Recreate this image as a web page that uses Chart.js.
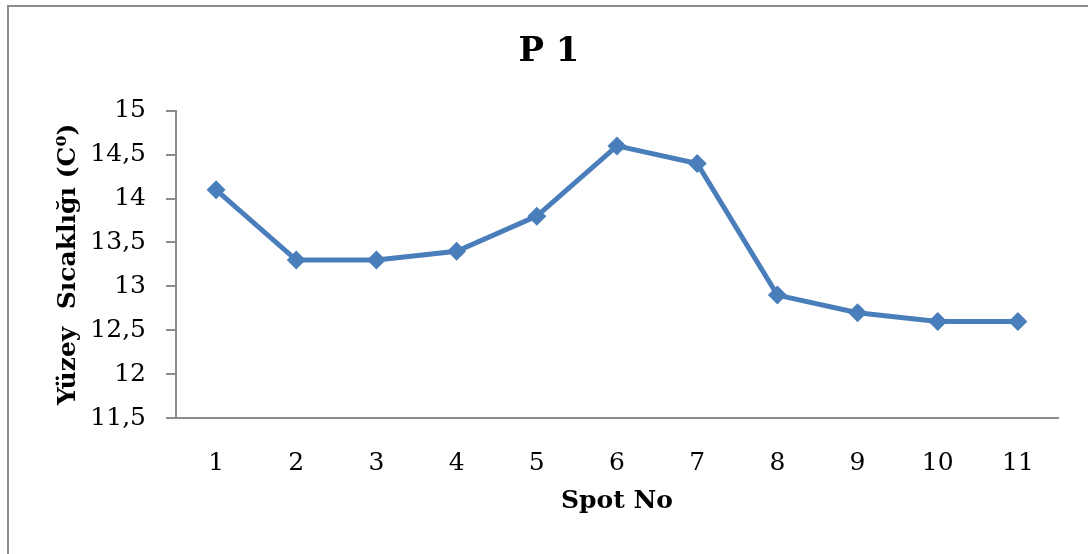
<!DOCTYPE html>
<html>
<head>
<meta charset="utf-8">
<script src="https://cdn.jsdelivr.net/npm/chart.js@4.4.1/dist/chart.umd.min.js"></script>
<style>
  html, body { margin: 0; padding: 0; background: #fff; }
  #wrap { width: 1088px; height: 554px; position: relative; }
</style>
</head>
<body>
<div id="wrap"><canvas id="c" width="1088" height="554"></canvas></div>
<script>
const categories = ['1', '2', '3', '4', '5', '6', '7', '8', '9', '10', '11'];
const temperatures = [14.1, 13.3, 13.3, 13.4, 13.8, 14.6, 14.4, 12.9, 12.7, 12.6, 12.6];
const yTicks = [11.5, 12, 12.5, 13, 13.5, 14, 14.5, 15];
const chartTitle = 'P 1';
const xTitle = 'Spot No';
const yTitle = 'Yüzey  Sıcaklığı (C⁰)';

const SERIF = "'DejaVu Serif', 'Liberation Serif', serif";
const GRAY = '#8c8c8c';
const BLUE = '#4a7ebb';

const frame = {
  id: 'frame',
  beforeDraw(chart) {
    const ctx = chart.ctx;
    ctx.save();
    ctx.fillStyle = '#fff';
    ctx.fillRect(0, 0, chart.width, chart.height);
    ctx.strokeStyle = GRAY;
    ctx.lineWidth = 2;
    ctx.beginPath();
    ctx.moveTo(8, chart.height);
    ctx.lineTo(8, 6);
    ctx.lineTo(chart.width, 6);
    ctx.stroke();
    ctx.restore();
  }
};

new Chart(document.getElementById('c'), {
  type: 'line',
  data: {
    labels: categories,
    datasets: [{
      data: temperatures,
      borderColor: BLUE,
      backgroundColor: BLUE,
      borderWidth: 5,
      pointStyle: 'rectRot',
      pointRadius: 9.5,
      pointHoverRadius: 9.5,
      pointBorderWidth: 0,
      tension: 0,
      fill: false
    }]
  },
  options: {
    responsive: false,
    animation: false,
    devicePixelRatio: 1,
    layout: { padding: { left: 40, right: 30, top: 0, bottom: 20 } },
    plugins: {
      legend: { display: false },
      tooltip: { enabled: false },
      title: {
        display: true,
        text: chartTitle,
        color: '#000',
        font: { family: SERIF, size: 34, weight: 'bold' },
        padding: { top: 32, bottom: 38 }
      }
    },
    scales: {
      x: {
        type: 'category',
        offset: true,
        grid: { display: false },
        border: { display: true, color: GRAY, width: 2 },
        ticks: {
          color: '#000',
          font: { family: SERIF, size: 25 },
          padding: 22,
          maxRotation: 0,
          autoSkip: false
        },
        title: {
          display: true,
          text: xTitle,
          color: '#000',
          font: { family: SERIF, size: 25, weight: 'bold' },
          padding: { top: 0, bottom: 18 }
        },
        afterFit(scale) { scale.height = 116; }
      },
      y: {
        min: 11.5,
        max: 15,
        afterBuildTicks(scale) { scale.ticks = yTicks.map(v => ({ value: v })); },
        grid: { drawOnChartArea: false, drawTicks: true, tickLength: 10, color: GRAY, lineWidth: 2 },
        border: { display: true, color: GRAY, width: 2 },
        ticks: {
          color: '#000',
          font: { family: SERIF, size: 25 },
          padding: 20,
          callback: v => String(v).replace('.', ',')
        },
        title: {
          display: true,
          text: yTitle,
          color: '#000',
          font: { family: SERIF, size: 25, weight: 'bold' },
          padding: { top: 13, bottom: 0 }
        },
        afterFit(scale) { scale.width = 136; }
      }
    }
  },
  plugins: [frame]
});
</script>
</body>
</html>
